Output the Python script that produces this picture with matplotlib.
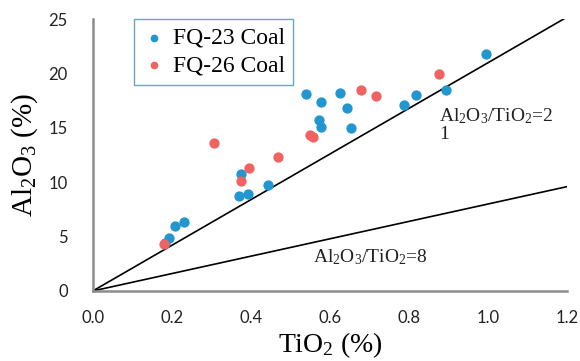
import matplotlib
matplotlib.use('Agg')
import matplotlib.pyplot as plt
import numpy as np

# FQ-23 / FQ-26 coal samples, TiO2 vs Al2O3 (%)
fq23_tio2 = [0.538, 0.576, 0.624, 0.643, 0.573, 0.576, 0.652, 0.786, 0.818, 0.894, 0.994,
             0.374, 0.370, 0.392, 0.444, 0.209, 0.231, 0.192, 0.183]
fq23_al2o3 = [18.1, 17.4, 18.2, 16.8, 15.7, 15.05, 15.0, 17.1, 18.0, 18.5, 21.75,
              10.75, 8.75, 8.95, 9.7, 6.0, 6.3, 4.9, 4.4]
fq26_tio2 = [0.678, 0.716, 0.875, 0.549, 0.558, 0.307, 0.469, 0.396, 0.376, 0.179]
fq26_al2o3 = [18.45, 17.9, 19.95, 14.35, 14.15, 13.65, 12.3, 11.3, 10.15, 4.3]

ratios = [21, 8]
x_ticks = [0.0, 0.2, 0.4, 0.6, 0.8, 1.0, 1.2]
y_ticks = [0, 5, 10, 15, 20, 25]

plt.rcParams['mathtext.fontset'] = 'stix'
serif = 'Liberation Serif'

fig = plt.figure(figsize=(5.8, 3.61), dpi=100)
ax = fig.add_axes([0.160, 0.194, 0.818, 0.753])

xs = np.array([0.0, 1.2])
for r in ratios:
    ax.plot(xs, r * xs, color='black', lw=1.2, zorder=1)

ax.scatter(fq23_tio2, fq23_al2o3, s=55, color='#2196CF', label='FQ-23 Coal', zorder=3, linewidths=0)
ax.scatter(fq26_tio2, fq26_al2o3, s=55, color='#EF6461', label='FQ-26 Coal', zorder=3, linewidths=0)

ax.set_xlim(0, 1.2)
ax.set_ylim(0, 25)
ax.set_xticks(x_ticks)
ax.set_xticklabels(['%.1f' % t for t in x_ticks])
ax.set_yticks(y_ticks)
ax.tick_params(length=0, labelsize=12, colors='#222222')
for lab in ax.get_xticklabels() + ax.get_yticklabels():
    lab.set_family('Lato')
ax.tick_params(axis='x', pad=14)
ax.tick_params(axis='y', pad=18)

for s in ['top', 'right']:
    ax.spines[s].set_visible(False)
for s in ['left', 'bottom']:
    ax.spines[s].set_color('#8c8c8c')
    ax.spines[s].set_linewidth(1.8)

ax.set_xlabel(r'TiO$\mathregular{_2}$ (%)', family=serif, fontsize=20, labelpad=3)
ax.set_ylabel(r'Al$\mathregular{_2}$O$\mathregular{_3}$ (%)', family=serif, fontsize=21, labelpad=6)

ax.text(0.875, 15.3, 'Al$\\mathregular{_2}$O$\\mathregular{_3}$/TiO$\\mathregular{_2}$=2\n1',
        family=serif, fontsize=14, color='#222222', va='center', linespacing=1.0)
ax.text(0.558, 2.6, 'Al$\\mathregular{_2}$O$\\mathregular{_3}$/TiO$\\mathregular{_2}$=8',
        family=serif, fontsize=14, color='#222222', va='baseline')

leg = ax.legend(loc='upper left', bbox_to_anchor=(0.086, 1.0), prop={'family': serif, 'size': 17},
                frameon=True, fancybox=False, handletextpad=0.3, borderpad=0.35, borderaxespad=0,
                labelspacing=0.25, handlelength=1.0, markerscale=0.75, scatterpoints=1)
leg.get_frame().set_edgecolor('#4a8fae')
leg.get_frame().set_linewidth(1.0)

fig.savefig('out.png', dpi=100)
